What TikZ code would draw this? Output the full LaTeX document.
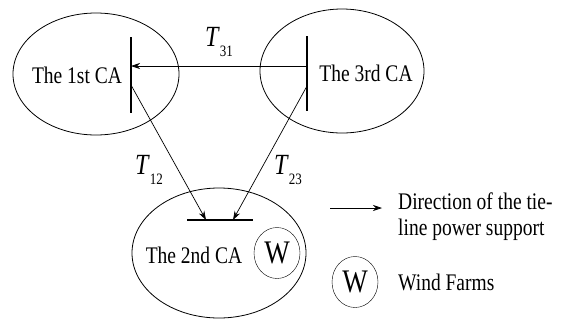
\documentclass[tikz,border=0pt]{standalone}
\usepackage{fontspec}
\setmainfont{Liberation Serif}
\usepackage{graphicx}
\usepackage{tikz}
\usetikzlibrary{positioning,arrows.meta,shapes.geometric,calc}
\newcommand{\tallt}[1]{\scalebox{1}[1.22]{#1}}
\newcommand{\tie}[1]{\tallt{\textit{T}\raisebox{-8pt}{\fontsize{13}{13}\selectfont #1}}}

\begin{document}
\begin{tikzpicture}[
    x=1pt, y=-1pt,
    area/.style={ellipse, draw, inner sep=0pt, line width=0.8pt},
    wf/.style={ellipse, draw, inner sep=0pt, minimum width=46pt, minimum height=51pt, font=\fontsize{27}{28}\selectfont},
    lbl/.style={font=\fontsize{19.5}{26}\selectfont, inner sep=0pt},
    tlbl/.style={font=\fontsize{24}{25}\selectfont, inner sep=0pt},
    bar/.style={line width=1.4pt},
    arrow/.style={-{Stealth[length=9pt,width=6pt]}, line width=0.7pt}
]
\useasboundingbox (0,0) rectangle (562,322);

% control areas
\node[area, minimum width=166pt, minimum height=122pt] (CA1) at (96,74) {};
\node[area, minimum width=164pt, minimum height=124pt] (CA3) at (342,71) {};
\node[area, minimum width=174pt, minimum height=130pt] (CA2) at (219,253) {};

\node[lbl] (CA1txt) at (77,75) {\tallt{The 1st CA}};
\node[lbl] (CA3txt) at (366,73) {\tallt{The 3rd CA}};
\node[lbl] (CA2txt) at (194,255) {\tallt{The 2nd CA}};
\node[wf] (W2) at (277,253) {\tallt{W}};

% tie-line buses
\coordinate (B1t) at (131,37);
\coordinate (B1b) at (131,113);
\coordinate (B3t) at (307,36);
\coordinate (B3b) at (307,111);
\coordinate (B2l) at (187,220);
\coordinate (B2r) at (253,220);
\draw[bar] (B1t) -- (B1b);
\draw[bar] (B3t) -- (B3b);
\draw[bar] (B2l) -- (B2r);

\coordinate (S31) at (307,66);
\coordinate (E31) at (131,66);
\coordinate (S12) at (131,85);
\coordinate (E12) at (206,220);
\coordinate (S23) at (307,86);
\coordinate (E23) at (233,220);

\draw[arrow] (S31) -- (E31);
\draw[arrow] (S12) -- (E12);
\draw[arrow] (S23) -- (E23);

\node[tlbl] (T31) at (219,42) {\tie{31}};
\node[tlbl] (T12) at (149,170) {\tie{12}};
\node[tlbl] (T23) at (288,170) {\tie{23}};

% legend
\coordinate (La) at (330,208);
\coordinate (Lb) at (382,208);
\draw[arrow] (La) -- (Lb);
\node[lbl, anchor=west, align=left] (Ldir) at (398,217) {\tallt{Direction of the tie-}\\\tallt{line power support}};
\node[wf] (Lw) at (355,282) {\tallt{W}};
\node[lbl, anchor=west] (Lwind) at (398,282) {\tallt{Wind Farms}};

\end{tikzpicture}
\end{document}
